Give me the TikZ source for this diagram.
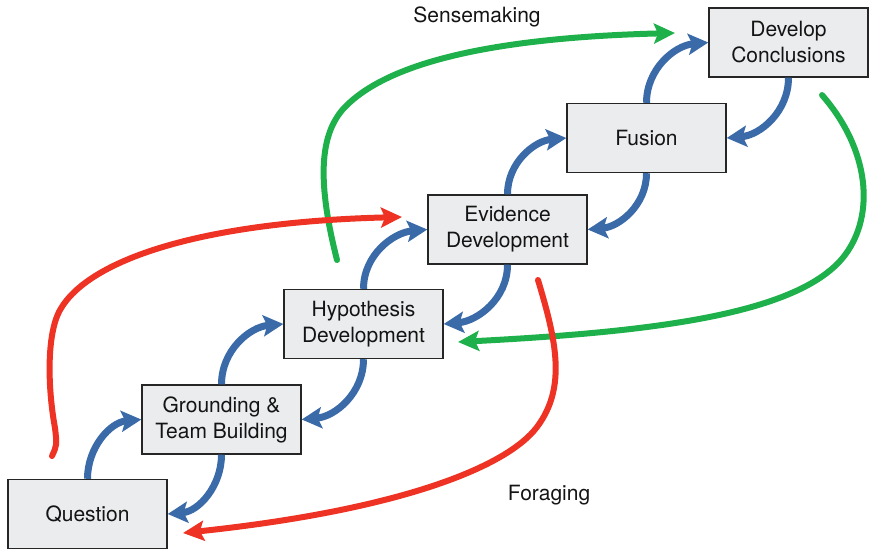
\documentclass[tikz,border=0pt]{standalone}
\usepackage{fontspec}
\setmainfont{TeX Gyre Heros}
\usetikzlibrary{arrows.meta}
\definecolor{flowblue}{HTML}{3A6AA8}
\definecolor{forage}{HTML}{EE3224}
\definecolor{sense}{HTML}{1EB04A}
\definecolor{boxfill}{HTML}{EBECEE}
\begin{document}
\begin{tikzpicture}[x=1pt,y=1pt,
  stage/.style={draw=black!85, line width=1.4pt, fill=boxfill,
    minimum width=159pt, minimum height=69pt, align=center, inner sep=0pt,
    text=black!92, font=\fontsize{21}{26}\selectfont},
  looptext/.style={text=black!92, font=\fontsize{21}{26}\selectfont},
  stepflow/.style={draw=flowblue, line width=7pt,
    -{Stealth[length=20pt,width=21pt,inset=4pt]}},
  foragearrow/.style={draw=forage, line width=6pt, line cap=round,
    -{Stealth[length=21pt,width=20pt,inset=4pt]}},
  sensearrow/.style={draw=sense, line width=6pt, line cap=round,
    -{Stealth[length=21pt,width=20pt,inset=4pt]}},
]
\useasboundingbox (0,0) rectangle (871,-550);

% stages of the analysis
\node[stage] (q) at (87.5,-514) {Question};
\node[stage] (g) at (221.5,-419.5) {Grounding \&\\Team Building};
\node[stage] (h) at (363.5,-324) {Hypothesis\\Development};
\node[stage] (e) at (507.5,-229.5) {Evidence\\Development};
\node[stage] (f) at (646.5,-138) {Fusion};
\node[stage] (c) at (788.5,-42.5) {Develop\\Conclusions};

% loop labels
\node[looptext] (senselbl) at (477,-17) {Sensemaking};
\node[looptext] (foragelbl) at (549,-495) {Foraging};

% free ends of the two big loops
\coordinate (s1a) at (337,-260);
\coordinate (s1b) at (675,-33);
\coordinate (s2a) at (822,-95);
\coordinate (s2b) at (458,-342);
\coordinate (f1a) at (52,-456);
\coordinate (f1b) at (402,-217);
\coordinate (f2a) at (538,-280);
\coordinate (f2b) at (183,-533);

% sensemaking loop
\draw[sensearrow] (s1a) .. controls (318,-185) and (318,-135) .. (345,-107)
  .. controls (385,-66) and (480,-38) .. (s1b);
\draw[sensearrow] (s2a) .. controls (870,-150) and (875,-215) .. (845,-255)
  .. controls (800,-315) and (650,-332) .. (s2b);

% foraging loop
\draw[foragearrow] (f1a) .. controls (57,-445) .. (55,-428)
  .. controls (48,-390) and (46,-335) .. (60,-310)
  .. controls (88,-260) and (200,-222) .. (f1b);
\draw[foragearrow] (f2a) .. controls (556,-340) and (567,-387) .. (537,-427)
  .. controls (507,-467) and (400,-510) .. (f2b);

% step-by-step progression up and back down
\draw[stepflow] (q.north) to[out=90, in=185] (g.west);
\draw[stepflow] (g.north) to[out=90, in=185] (h.west);
\draw[stepflow] (h.north) to[out=90, in=185] (e.west);
\draw[stepflow] (e.north) to[out=90, in=185] (f.west);
\draw[stepflow] (f.north) to[out=90, in=185] (c.west);
\draw[stepflow] (c.south) to[out=-90, in=5] (f.east);
\draw[stepflow] (f.south) to[out=-90, in=5] (e.east);
\draw[stepflow] (e.south) to[out=-90, in=5] (h.east);
\draw[stepflow] (h.south) to[out=-90, in=5] (g.east);
\draw[stepflow] (g.south) to[out=-90, in=5] (q.east);
\end{tikzpicture}
\end{document}
